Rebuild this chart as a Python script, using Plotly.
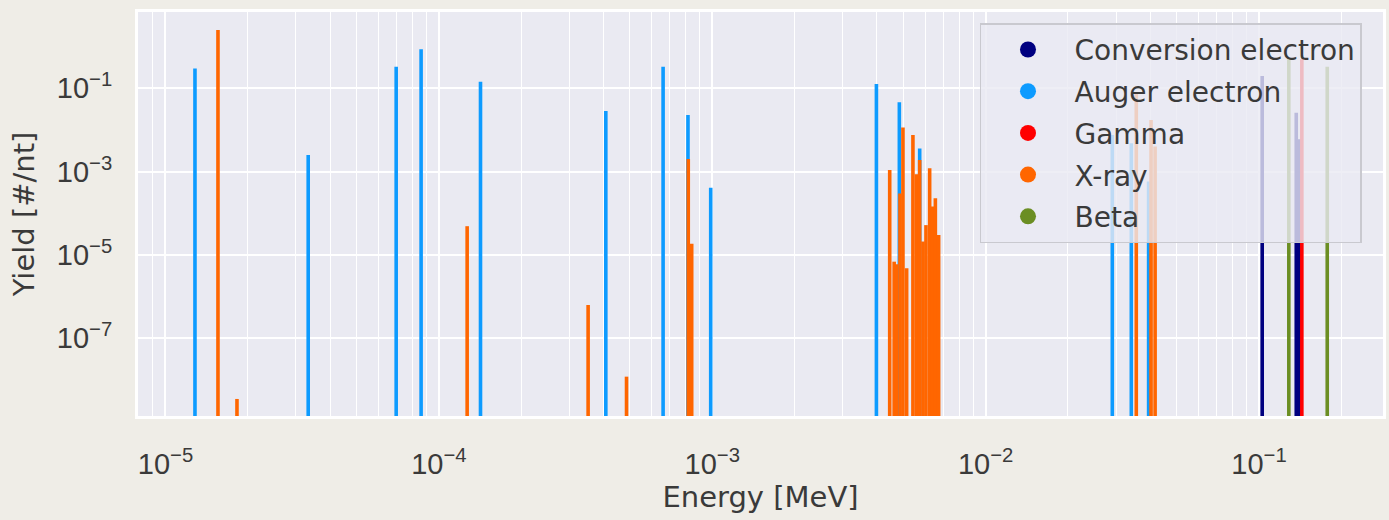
import plotly.graph_objects as go

# ---------------- data (energy in MeV, yield per nuclear transformation) ----------------
conv_energy = [0.1027, 0.1368, 0.1406]
conv_yield = [0.197, 0.026, 0.006]

auger_energy = [1.282e-5, 3.327e-5, 6.98e-5, 8.61e-5, 1.42e-4, 4.08e-4, 6.61e-4, 8.15e-4,
                9.87e-4, 3.985e-3, 4.834e-3, 5.737e-3, 0.02906, 0.0341, 0.03945]
auger_yield = [0.30, 2.5e-3, 0.33, 0.86, 0.144, 0.0285, 0.33, 0.023,
               4.1e-4, 0.127, 0.046, 3.6e-3, 7.6e-3, 4.8e-3, 5.8e-4]

gamma_energy = [0.1434]
gamma_yield = [0.50]

xray_energy = [1.556e-5, 1.826e-5, 1.269e-4, 3.515e-4, 4.857e-4, 8.17e-4, 8.41e-4,
               4.457e-3, 4.628e-3, 4.715e-3, 4.86e-3, 4.983e-3, 5.141e-3, 5.42e-3,
               5.58e-3, 5.737e-3, 5.898e-3, 6.049e-3, 6.24e-3, 6.4e-3, 6.547e-3, 6.731e-3,
               0.03556, 0.04027, 0.04167]
xray_yield = [2.5, 3.5e-9, 4.9e-5, 6.3e-7, 1.2e-8, 2.0e-3, 1.86e-5,
              1.1e-3, 6.9e-6, 6.0e-6, 3.0e-4, 0.0114, 4.8e-6, 7.6e-3,
              8.7e-4, 1.9e-3, 2.1e-5, 5.2e-5, 1.2e-3, 1.45e-4, 2.3e-4, 3.0e-5,
              0.077, 0.0174, 4.0e-3]

beta_energy = [0.1285, 0.1776]
beta_yield = [0.50, 0.33]

series_names = ["Conversion electron", "Auger electron", "Gamma", "X-ray", "Beta"]
series_energy = [conv_energy, auger_energy, gamma_energy, xray_energy, beta_energy]
series_yield = [conv_yield, auger_yield, gamma_yield, xray_yield, beta_yield]
series_colors = ["#000080", "#0d9bff", "#ff0000", "#ff6600", "#6b8e23"]

x_log_range = [-5.1005, -0.5466]
y_log_range = [-8.865, 0.831]
x_tick_vals = [1e-5, 1e-4, 1e-3, 1e-2, 1e-1]
x_tick_text = ["10<sup>\u22125</sup>", "10<sup>\u22124</sup>", "10<sup>\u22123</sup>",
               "10<sup>\u22122</sup>", "10<sup>\u22121</sup>"]
y_tick_vals = [1e-7, 1e-5, 1e-3, 1e-1]
y_tick_text = ["10<sup>\u22127</sup>", "10<sup>\u22125</sup>", "10<sup>\u22123</sup>",
               "10<sup>\u22121</sup>"]

FONT = "DejaVu Sans"
TICKFONT = "Liberation Sans"
TXT = "#3a3a3a"
PAPER = "#efede7"

fig = go.Figure()
baseline = 10 ** (y_log_range[0] - 1)

for name, ex, ys, col in zip(series_names, series_energy, series_yield, series_colors):
    xs, yv = [], []
    for e, y in zip(ex, ys):
        xs += [e, e, None]
        yv += [baseline, y, None]
    fig.add_trace(go.Scatter(x=xs, y=yv, mode="lines", line=dict(color=col, width=3.6),
                             showlegend=False, hoverinfo="skip"))

for i, (name, col) in enumerate(zip(series_names, series_colors)):
    fig.add_trace(go.Scatter(x=[None], y=[None], mode="markers", name=name,
                             legendgroup="g%d" % i,
                             marker=dict(color=col, size=16, symbol="circle")))

fig.update_layout(
    width=1389, height=520,
    margin=dict(l=138, r=6, t=12, b=104, autoexpand=False),
    paper_bgcolor=PAPER,
    plot_bgcolor="#eaeaf2",
    font=dict(family=FONT, size=29, color=TXT),
    showlegend=True,
    legend=dict(
        x=0.6763, y=0.972, xanchor="left", yanchor="top",
        bgcolor="rgba(234,234,242,0.8)", bordercolor="#c9c9cf", borderwidth=1.5,
        font=dict(family=FONT, size=28, color=TXT),
        itemsizing="trace", itemwidth=83, tracegroupgap=2.3,
    ),
)

fig.update_xaxes(
    type="log", range=x_log_range, automargin=False,
    tickvals=x_tick_vals, ticktext=x_tick_text,
    ticks="outside", ticklen=20, tickcolor="rgba(0,0,0,0)",
    showgrid=True, gridcolor="white", gridwidth=2,
    minor=dict(dtick="D1", showgrid=True, gridcolor="white", gridwidth=1, ticks=""),
    showline=True, linecolor="white", linewidth=3, mirror=True,
    zeroline=False,
    title=dict(text="Energy [MeV]", standoff=5, font=dict(family=FONT, size=29, color=TXT)),
    tickfont=dict(family=TICKFONT, size=29, color=TXT),
)
fig.update_yaxes(
    type="log", range=y_log_range, automargin=False,
    tickvals=y_tick_vals, ticktext=y_tick_text,
    ticks="outside", ticklen=17, tickcolor="rgba(0,0,0,0)",
    showgrid=True, gridcolor="white", gridwidth=2,
    showline=True, linecolor="white", linewidth=3, mirror=True,
    zeroline=False,
    title=dict(text="Yield [#/nt]", standoff=14, font=dict(family=FONT, size=29, color=TXT)),
    tickfont=dict(family=TICKFONT, size=29, color=TXT),
)

page_js = ("document.body.style.margin='0px';"
           "document.body.style.overflow='hidden';"
           "document.body.style.backgroundColor='%s';" % PAPER)
fig.write_html("out.html", post_script=page_js, config={"displayModeBar": False})
